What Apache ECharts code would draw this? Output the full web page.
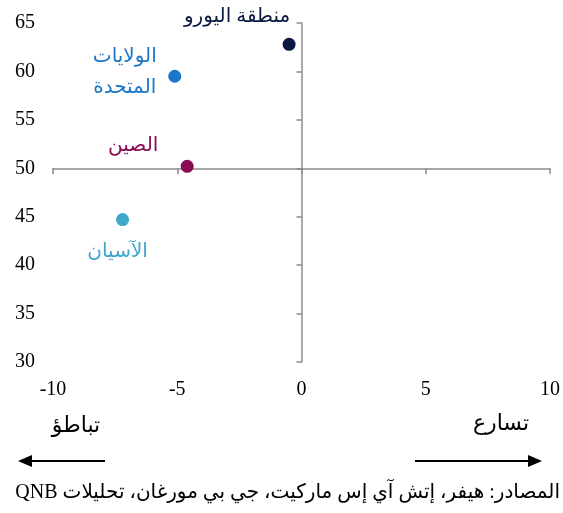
<!DOCTYPE html>
<html>
<head>
<meta charset="utf-8">
<script src="https://cdn.jsdelivr.net/npm/echarts@6/dist/echarts.min.js"></script>
<style>
  html, body { margin: 0; padding: 0; background: #fff; }
  #chart { width: 563px; height: 513px; }
</style>
</head>
<body>
<div id="chart"></div>
<script>
// regions: [x = momentum change, y = PMI level]
const names = ['منطقة اليورو', 'الولايات\nالمتحدة', 'الصين', 'الآسيان']
const xValues = [-0.5, -5.1, -4.6, -7.2]
const yValues = [62.8, 59.5, 50.2, 44.7]
const colors = ['#0b1a42', '#1a76c9', '#8a0c54', '#3ea8cb']

const xTicks = [-10, -5, 0, 5, 10]
const yTicks = [30, 35, 40, 45, 50, 55, 60, 65]
const crossY = 50

const slowText = 'تباطؤ'
const fastText = 'تسارع'
const sourceText = 'المصادر: هيفر، إتش آي إس ماركيت، جي بي مورغان، تحليلات QNB'

const labelOffsets = [[-52, -28], [-50, -4], [-54, -21], [-5, 32]]

const chart = echarts.init(document.getElementById('chart'))

const gridTop = 23, gridBottom = 151
const gridHeight = 513 - gridTop - gridBottom
const yMin = yTicks[0], yMax = yTicks[yTicks.length - 1]
const crossOffset = -(crossY - yMin) / (yMax - yMin) * gridHeight

const axisColor = '#8c8c8c'
const font = "'Liberation Serif', 'DejaVu Sans', serif"

const points = names.map((n, i) => ({
    name: n,
    value: [xValues[i], yValues[i]],
    itemStyle: { color: colors[i], opacity: 1 },
    label: {
        show: true,
        formatter: n,
        position: 'inside',
        offset: labelOffsets[i],
        color: colors[i],
        fontSize: 20,
        lineHeight: 31,
        fontFamily: font
    }
}))

function arrow(x1, x2, y) {
    const dir = x2 > x1 ? 1 : -1
    const head = 14
    return [
        { type: 'line', shape: { x1: x1, y1: y, x2: x2 - dir * head, y2: y }, style: { stroke: '#000', lineWidth: 2 } },
        { type: 'polygon', shape: { points: [[x2, y], [x2 - dir * head, y - 6], [x2 - dir * head, y + 6]] }, style: { fill: '#000' } }
    ]
}

const option = {
    animation: false,
    grid: { left: 53, right: 12, top: gridTop, bottom: gridBottom },
    xAxis: [
        {
            type: 'value', min: -10, max: 10, interval: 5,
            axisLine: { show: false, onZero: false },
            axisTick: { show: false },
            splitLine: { show: false },
            axisLabel: { color: '#000', fontSize: 20, fontFamily: font, margin: 18 }
        },
        {
            type: 'value', min: -10, max: 10, interval: 5,
            position: 'bottom',
            offset: crossOffset,
            axisLine: { show: true, onZero: false, lineStyle: { color: axisColor, width: 1.5 } },
            axisTick: { show: true, length: 6, lineStyle: { color: axisColor, width: 1.5 } },
            splitLine: { show: false },
            axisLabel: { show: false }
        }
    ],
    yAxis: [
        {
            type: 'value', min: yMin, max: yMax, interval: 5,
            axisLine: { show: false, onZero: false },
            axisTick: { show: false },
            splitLine: { show: false },
            axisLabel: { color: '#000', fontSize: 20, fontFamily: font, margin: 18 }
        },
        {
            type: 'value', min: yMin, max: yMax, interval: 5,
            position: 'left',
            axisLine: { show: true, onZero: true, onZeroAxisIndex: 0, lineStyle: { color: axisColor, width: 1.5 } },
            axisTick: { show: true, length: 5, lineStyle: { color: axisColor, width: 1.5 } },
            splitLine: { show: false },
            axisLabel: { show: false }
        }
    ],
    series: [{
        type: 'scatter',
        symbolSize: 13,
        xAxisIndex: 0,
        yAxisIndex: 0,
        data: points
    }],
    graphic: [
        { type: 'text', x: 76, y: 426, style: { text: slowText, fill: '#000', font: "22px " + font, align: 'center', verticalAlign: 'middle' } },
        { type: 'text', x: 501, y: 424, style: { text: fastText, fill: '#000', font: "22px " + font, align: 'center', verticalAlign: 'middle' } },
        ...arrow(105, 18, 461),
        ...arrow(415, 542, 461),
        { type: 'text', x: 560, y: 493, style: { text: '\u202B' + sourceText + '\u202C', fill: '#000', font: "20px " + font, align: 'right', verticalAlign: 'middle' } }
    ]
}

chart.setOption(option)
</script>
</body>
</html>
